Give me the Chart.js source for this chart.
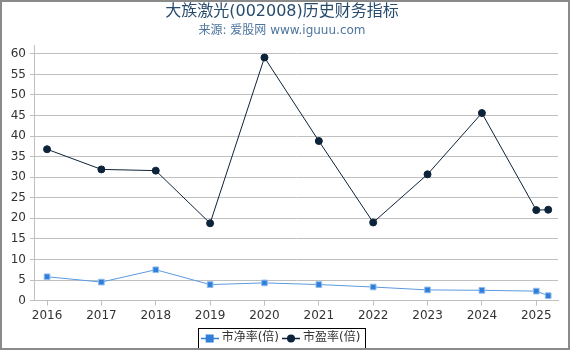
<!DOCTYPE html>
<html><head><meta charset="utf-8">
<script src="https://cdn.jsdelivr.net/npm/chart.js@4"></script>
<style>
html,body{margin:0;padding:0;background:#fff;}
#wrap{width:566px;height:346px;border:2px solid #8a8a8a;position:relative;overflow:hidden;}
canvas{display:block;}
</style></head>
<body><div id="wrap"><canvas id="c" width="566" height="346"></canvas></div>
<script>
const titleText = '大族激光(002008)历史财务指标';
const subtitleText = '来源: 爱股网 www.iguuu.com';
const years = [2016, 2017, 2018, 2019, 2020, 2021, 2022, 2023, 2024, 2025, 2025.22];
const yearTicks = [2016, 2017, 2018, 2019, 2020, 2021, 2022, 2023, 2024, 2025];
const pbValues = [5.8, 4.5, 7.5, 3.9, 4.3, 3.9, 3.3, 2.6, 2.5, 2.3, 1.2];
const peValues = [36.8, 31.9, 31.6, 18.8, 59.1, 38.8, 19.0, 30.7, 45.6, 22.0, 22.1];
const yTicks = [0, 5, 10, 15, 20, 25, 30, 35, 40, 45, 50, 55, 60];
const seriesNames = ['市净率(倍)', '市盈率(倍)'];

const FONT = '"DejaVu Sans", "Noto Sans CJK SC", sans-serif';
const PB_COLOR = '#2f7ed8';
const PE_COLOR = '#0d233a';

function icon(color, shape) {
  const c = document.createElement('canvas');
  c.width = 18; c.height = 10;
  const g = c.getContext('2d');
  g.strokeStyle = color; g.lineWidth = 1.5;
  g.beginPath(); g.moveTo(0, 5.5); g.lineTo(18, 5.5); g.stroke();
  g.fillStyle = color;
  if (shape === 'rect') { g.fillRect(5, 1.5, 8, 8); }
  else { g.beginPath(); g.arc(9, 5.5, 4, 0, Math.PI * 2); g.fill(); }
  return c;
}

const pts = (vals) => years.map((x, i) => ({x: x, y: vals[i]}));

const legendBox = {
  id: 'legendBox',
  afterDraw(chart) {
    const l = chart.legend;
    if (!l || !l.legendHitBoxes || !l.legendHitBoxes.length) return;
    const hb = l.legendHitBoxes;
    let x0 = Math.min(...hb.map(b => b.left)), x1 = Math.max(...hb.map(b => b.left + b.width));
    let y0 = Math.min(...hb.map(b => b.top)), y1 = Math.max(...hb.map(b => b.top + b.height));
    const ctx = chart.ctx;
    ctx.save();
    ctx.strokeStyle = '#000'; ctx.lineWidth = 1;
    ctx.strokeRect(Math.round(x0 - 6) + 0.5, Math.round(y0 - 4) + 0.5, Math.round(x1 - x0 + 10), Math.round(y1 - y0 + 8));
    ctx.restore();
  }
};

new Chart(document.getElementById('c'), {
  type: 'line',
  data: {
    datasets: [
      {label: seriesNames[0], data: pts(pbValues), borderColor: '#5b9be0', backgroundColor: PB_COLOR,
       pointStyle: 'rect', pointRadius: 4, pointBorderColor: '#8fbdf0', pointBorderWidth: 1, borderWidth: 1, tension: 0},
      {label: seriesNames[1], data: pts(peValues), borderColor: PE_COLOR, backgroundColor: PE_COLOR,
       pointStyle: 'circle', pointRadius: 3.5, pointBorderColor: PE_COLOR, borderWidth: 1, tension: 0}
    ]
  },
  options: {
    responsive: false,
    animation: false,
    layout: {padding: {left: 4, right: 10, top: 0, bottom: -6}},
    plugins: {
      title: {display: true, text: titleText, color: '#274b6d', font: {family: FONT, size: 16, weight: 'normal'}, padding: {top: 0, bottom: 2}},
      subtitle: {display: true, text: subtitleText, color: '#4d759e', font: {family: FONT, size: 12}, padding: {top: 0, bottom: 8}},
      legend: {
        position: 'bottom',
        labels: {
          color: '#333', font: {family: FONT, size: 12}, usePointStyle: true, padding: 6, boxHeight: 10,
          generateLabels(chart) {
            return chart.data.datasets.map((d, i) => ({
              text: d.label, pointStyle: icon(i === 0 ? PB_COLOR : PE_COLOR, i === 0 ? 'rect' : 'circle'),
              fontColor: '#333', datasetIndex: i, lineWidth: 0, strokeStyle: 'transparent', fillStyle: 'transparent'
            }));
          }
        }
      },
      tooltip: {enabled: false}
    },
    scales: {
      x: {
        type: 'linear', min: 2015.76, max: 2025.4,
        afterBuildTicks(axis) { axis.ticks = yearTicks.map(v => ({value: v})); },
        ticks: {color: '#333', font: {family: FONT, size: 12}, padding: 3, maxRotation: 0, autoSkip: false, callback: v => String(v)},
        grid: {display: true, drawOnChartArea: false, drawTicks: true, tickLength: 5, color: '#c0c0c0'},
        border: {display: true, color: '#c0c0c0'}
      },
      y: {
        type: 'linear', min: 0, max: 62,
        afterBuildTicks(axis) { axis.ticks = yTicks.map(v => ({value: v})); },
        afterFit(axis) { axis.width = 28; },
        ticks: {color: '#333', font: {family: FONT, size: 12}, padding: 4},
        grid: {color: '#c0c0c0', tickLength: 4},
        border: {display: true, color: '#c0c0c0'}
      }
    }
  },
  plugins: [legendBox]
});
</script></body></html>
